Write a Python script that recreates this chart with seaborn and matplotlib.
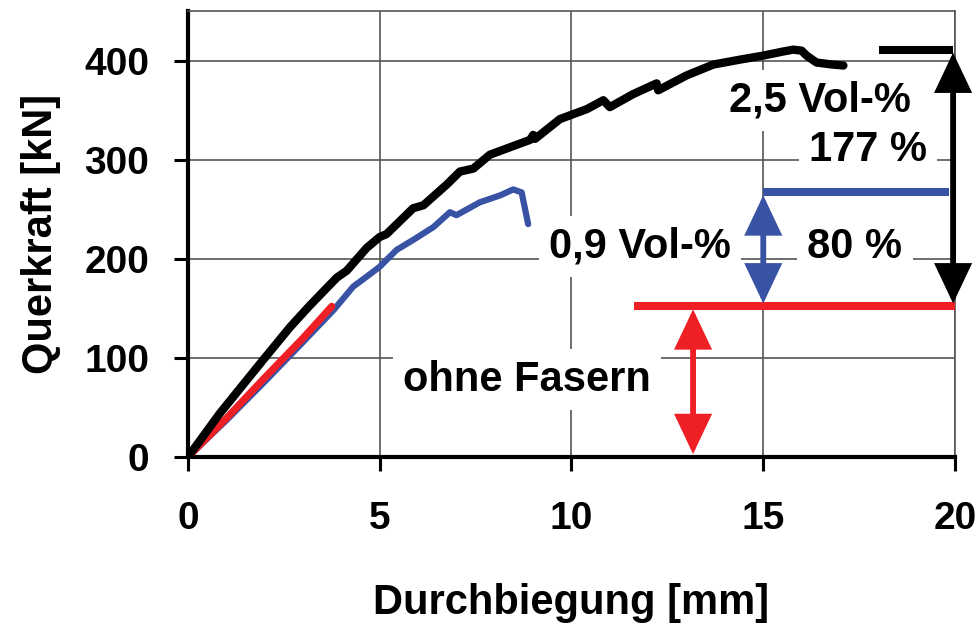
import matplotlib
matplotlib.use("Agg")
import matplotlib.pyplot as plt
import seaborn as sns
import pandas as pd
from matplotlib.patches import FancyArrowPatch

# ---------------- data ----------------
black_x = [0, 0.83, 1.96, 2.66, 3.18, 3.88, 4.14, 4.66, 5.0, 5.18, 5.87, 6.14, 6.75, 7.09,
           7.44, 7.87, 8.5, 8.92, 9.0, 9.05, 9.7, 10.4, 10.83, 11.0, 11.6, 12.22, 12.26,
           13.0, 13.7, 14.4, 15.0, 15.5, 15.78, 16.0, 16.13, 16.39, 16.8, 17.09]
black_y = [0, 44, 98, 131, 153, 181, 188, 211, 222, 225, 251, 254, 275, 288,
           291, 305, 314, 320, 325, 321, 341, 351, 360, 353, 366, 377, 370,
           385, 396, 401, 405, 409, 411, 410, 405, 398, 396, 395]

blue_x = [0, 1.0, 2.0, 3.0, 3.79, 4.31, 4.66, 5.0, 5.44, 5.87, 6.40, 6.83, 7.0, 7.61,
          8.14, 8.48, 8.70, 8.87]
blue_y = [0, 37, 76, 116, 148, 172, 182, 192, 209, 219, 232, 247, 244, 257,
          264, 270, 267, 235]

red_x = [0, 1.0, 2.0, 3.0, 3.75]
red_y = [0, 39, 80, 120, 152]

series_names = ["2,5 Vol-%", "0,9 Vol-%", "ohne Fasern"]
series_colors = ["#000000", "#3953A4", "#EE2026"]

x_ticks = [0, 5, 10, 15, 20]
y_ticks = [0, 100, 200, 300, 400]

pct_labels = ["177 %", "80 %"]

# ---------------- style ----------------
sns.set_style("white")
plt.rcParams["font.family"] = ["Liberation Sans", "DejaVu Sans"]
plt.rcParams["font.weight"] = "bold"
plt.rcParams["axes.labelweight"] = "bold"
for k in ["text.color", "axes.labelcolor", "xtick.color", "ytick.color"]:
    plt.rcParams[k] = "black"

fig = plt.figure(figsize=(9.78, 6.29), dpi=100)
ax = fig.add_axes([0.1922, 0.2734, 0.7843, 0.7091])

df = pd.concat([
    pd.DataFrame({"Durchbiegung": black_x, "Querkraft": black_y, "Serie": series_names[0]}),
    pd.DataFrame({"Durchbiegung": blue_x, "Querkraft": blue_y, "Serie": series_names[1]}),
    pd.DataFrame({"Durchbiegung": red_x, "Querkraft": red_y, "Serie": series_names[2]}),
])
pal = dict(zip(series_names, series_colors))
lws = {series_names[0]: 6.0, series_names[1]: 4.5, series_names[2]: 5.2}

for name in [series_names[1], series_names[2], series_names[0]]:
    sub = df[df["Serie"] == name]
    sns.lineplot(data=sub, x="Durchbiegung", y="Querkraft", color=pal[name],
                 lw=lws[name], estimator=None, sort=False, legend=False, ax=ax, zorder=4)

ax.set_xlim(0, 20)
ax.set_ylim(0, 450)
ax.set_xticks(x_ticks)
ax.set_yticks(y_ticks)
ax.grid(True, color="#555555", lw=1.2)
ax.set_axisbelow(True)

ax.tick_params(axis="both", direction="out", length=10, width=2.2, color="black",
               labelsize=28, labelcolor="black", bottom=True, left=True)
ax.tick_params(axis="x", pad=22)
ax.tick_params(axis="y", pad=18)

for s in ["top", "right"]:
    ax.spines[s].set_color("#555555")
    ax.spines[s].set_linewidth(1.2)
for s in ["left", "bottom"]:
    ax.spines[s].set_color("black")
    ax.spines[s].set_linewidth(3)

ax.set_xlabel("Durchbiegung [mm]", fontsize=30, fontweight="bold", color="black")
ax.set_ylabel("Querkraft [kN]", fontsize=30, fontweight="bold", color="black")
ax.xaxis.set_label_coords(0.5, -0.283)
ax.yaxis.set_label_coords(-0.166, 0.5)

# ---------------- annotations ----------------
lvl_red = max(red_y)
lvl_blue = max(blue_y[:-2]) - 3
lvl_black = max(black_y)

line_kw = dict(lw=5.8, solid_capstyle="butt", clip_on=False, zorder=5)
ax.plot([11.63, 20], [lvl_red, lvl_red], color=series_colors[2], **line_kw)
ax.plot([15.0, 19.85], [lvl_blue, lvl_blue], color=series_colors[1], **line_kw)
ax.plot([18.02, 19.95], [lvl_black, lvl_black], color=series_colors[0], **line_kw)

astyle = "<|-|>,head_length=1.1,head_width=0.52"
for xa, y0, y1, c in [(13.17, 0, lvl_red, series_colors[2]),
                      (15.0, lvl_red, lvl_blue, series_colors[1]),
                      (19.95, lvl_red, lvl_black, series_colors[0])]:
    arr = FancyArrowPatch((xa, y0 + 3), (xa, y1 - 3), arrowstyle=astyle, mutation_scale=20,
                          lw=4.2, color=c, shrinkA=0, shrinkB=0, clip_on=False, zorder=6,
                          joinstyle="miter")
    ax.add_patch(arr)

bbox = dict(boxstyle="square,pad=0.25", fc="white", ec="none")
txt_kw = dict(ha="center", va="center", fontsize=30, fontweight="bold", color="black",
              bbox=bbox, zorder=3)
ax.text(16.48, 360, series_names[0], **txt_kw)
ax.text(17.73, 310, pct_labels[0], **txt_kw)
ax.text(11.79, 212, series_names[1], **txt_kw)
ax.text(17.39, 212, pct_labels[1], **txt_kw)
ax.text(8.84, 78, series_names[2], **txt_kw)

fig.savefig("out.png", dpi=100)
